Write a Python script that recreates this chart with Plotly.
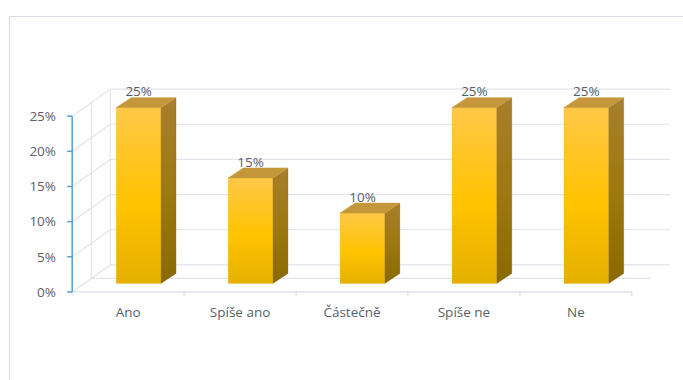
import plotly.graph_objects as go

# Survey answers and their shares (%)
categories = ["Ano", "Spíše ano", "Částečně", "Spíše ne", "Ne"]
values = [25, 15, 10, 25, 25]
y_ticks = [0, 5, 10, 15, 20, 25]
y_tick_labels = ["0%", "5%", "10%", "15%", "20%", "25%"]

# Oblique 3D projection offsets (x in category units, y in percent units)
WALL_DX, WALL_DY = 0.34, 3.85      # depth of the back wall
BAR_OX, BAR_OY = 0.094, 1.22       # bar front face, set back from the front plane
BAR_DX, BAR_DY = 0.134, 1.42       # bar depth
BAR_W = 0.40

GRID = "#E1E4E9"
AXIS_BLUE = "#5B9BD5"
TEXT = "#5A606C"
FONT = "Open Sans"
FONT_SIZE = 13.5

n = len(categories)
x_left, x_right = -0.5, n - 0.5

fig = go.Figure()


def seg_trace(xs, ys, color, width=1):
    fig.add_trace(go.Scatter(x=xs, y=ys, mode="lines", hoverinfo="skip",
                             line=dict(color=color, width=width), showlegend=False))


# Back wall, side wall and floor gridlines
gx, gy = [], []
for v in y_ticks:
    gx += [x_left + WALL_DX, x_right + WALL_DX, None]
    gy += [v + WALL_DY, v + WALL_DY, None]
    gx += [x_left, x_left + WALL_DX, None]
    gy += [v, v + WALL_DY, None]
top = max(y_ticks)
gx += [x_left + WALL_DX, x_left + WALL_DX, None, x_left + WALL_DX / 2, x_left + WALL_DX / 2, None]
gy += [WALL_DY, top + WALL_DY, None, WALL_DY / 2, top + WALL_DY / 2, None]
gx += [x_left + WALL_DX / 2, x_right + WALL_DX / 2, None]
gy += [WALL_DY / 2, WALL_DY / 2, None]
seg_trace(gx, gy, GRID, 1.2)

# Front floor edge with category boundary ticks
fx, fy = [x_left, x_right, None], [0, 0, None]
for k in range(n + 1):
    fx += [x_left + k, x_left + k, None]
    fy += [0, -0.6, None]
seg_trace(fx, fy, "#D9DDE3", 1.2)

# Value axis line with its ticks
ax, ay = [x_left, x_left, None], [0, top, None]
for v in y_ticks:
    ax += [x_left - 0.045, x_left, None]
    ay += [v, v, None]
seg_trace(ax, ay, AXIS_BLUE, 1.5)

# 3D columns: front, side and top faces
for i, v in enumerate(values):
    xa = i + BAR_OX - BAR_W / 2
    xb = i + BAR_OX + BAR_W / 2
    y0 = BAR_OY
    y1 = v + BAR_OY
    # front face
    fig.add_trace(go.Scatter(
        x=[xa, xb, xb, xa, xa], y=[y0, y0, y1, y1, y0], mode="lines",
        fill="toself", line=dict(color="rgba(230,180,40,0.6)", width=0.6),
        fillgradient=dict(type="vertical",
                          colorscale=[[0, "#E4B000"], [0.45, "#FFC300"], [1, "#FFC848"]]),
        hoverinfo="skip", showlegend=False))
    # side face
    fig.add_trace(go.Scatter(
        x=[xb, xb + BAR_DX, xb + BAR_DX, xb, xb],
        y=[y0, y0 + BAR_DY, y1 + BAR_DY, y1, y0], mode="lines",
        fill="toself", line=dict(color="rgba(140,105,20,0.5)", width=0.5),
        fillgradient=dict(type="vertical",
                          colorscale=[[0, "#896A00"], [0.5, "#9E7810"], [1, "#A87F2C"]]),
        hoverinfo="skip", showlegend=False))
    # top face
    fig.add_trace(go.Scatter(
        x=[xa, xb, xb + BAR_DX, xa + BAR_DX, xa],
        y=[y1, y1, y1 + BAR_DY, y1 + BAR_DY, y1], mode="lines",
        fill="toself", fillcolor="#C4983A", line=dict(color="#C4983A", width=0.5),
        hoverinfo="skip", showlegend=False))

# Value labels above the columns
fig.add_trace(go.Scatter(
    x=[i + BAR_OX for i in range(n)],
    y=[v + BAR_OY + BAR_DY - 0.3 for v in values],
    text=[f"{v}%" for v in values], mode="text", textposition="top center",
    textfont=dict(family=FONT, size=FONT_SIZE, color=TEXT),
    cliponaxis=False, hoverinfo="skip", showlegend=False))

fig.update_layout(
    width=683, height=380,
    margin=dict(l=61, r=12, t=74, b=81),
    paper_bgcolor="white", plot_bgcolor="white",
    xaxis=dict(range=[-0.6, 4.85], showgrid=False, zeroline=False, showline=False,
               tickvals=list(range(n)), ticktext=categories, ticks="",
               ticklabelstandoff=3,
               tickfont=dict(family=FONT, size=FONT_SIZE, color=TEXT), fixedrange=True),
    yaxis=dict(range=[-1, 31], showgrid=False, zeroline=False, showline=False,
               tickvals=[v for v in y_ticks], ticktext=y_tick_labels, ticks="",
               ticklabelstandoff=4,
               tickfont=dict(family=FONT, size=FONT_SIZE, color=TEXT), fixedrange=True),
    shapes=[dict(type="rect", xref="paper", yref="paper",
                 x0=(9.5 - 61) / 610, x1=1.2, y0=-0.6, y1=(299 - 16.5) / 225,
                 line=dict(color="#D5DCE4", width=1.2), fillcolor="rgba(0,0,0,0)",
                 layer="below")],
)

fig.write_html("out.html")
